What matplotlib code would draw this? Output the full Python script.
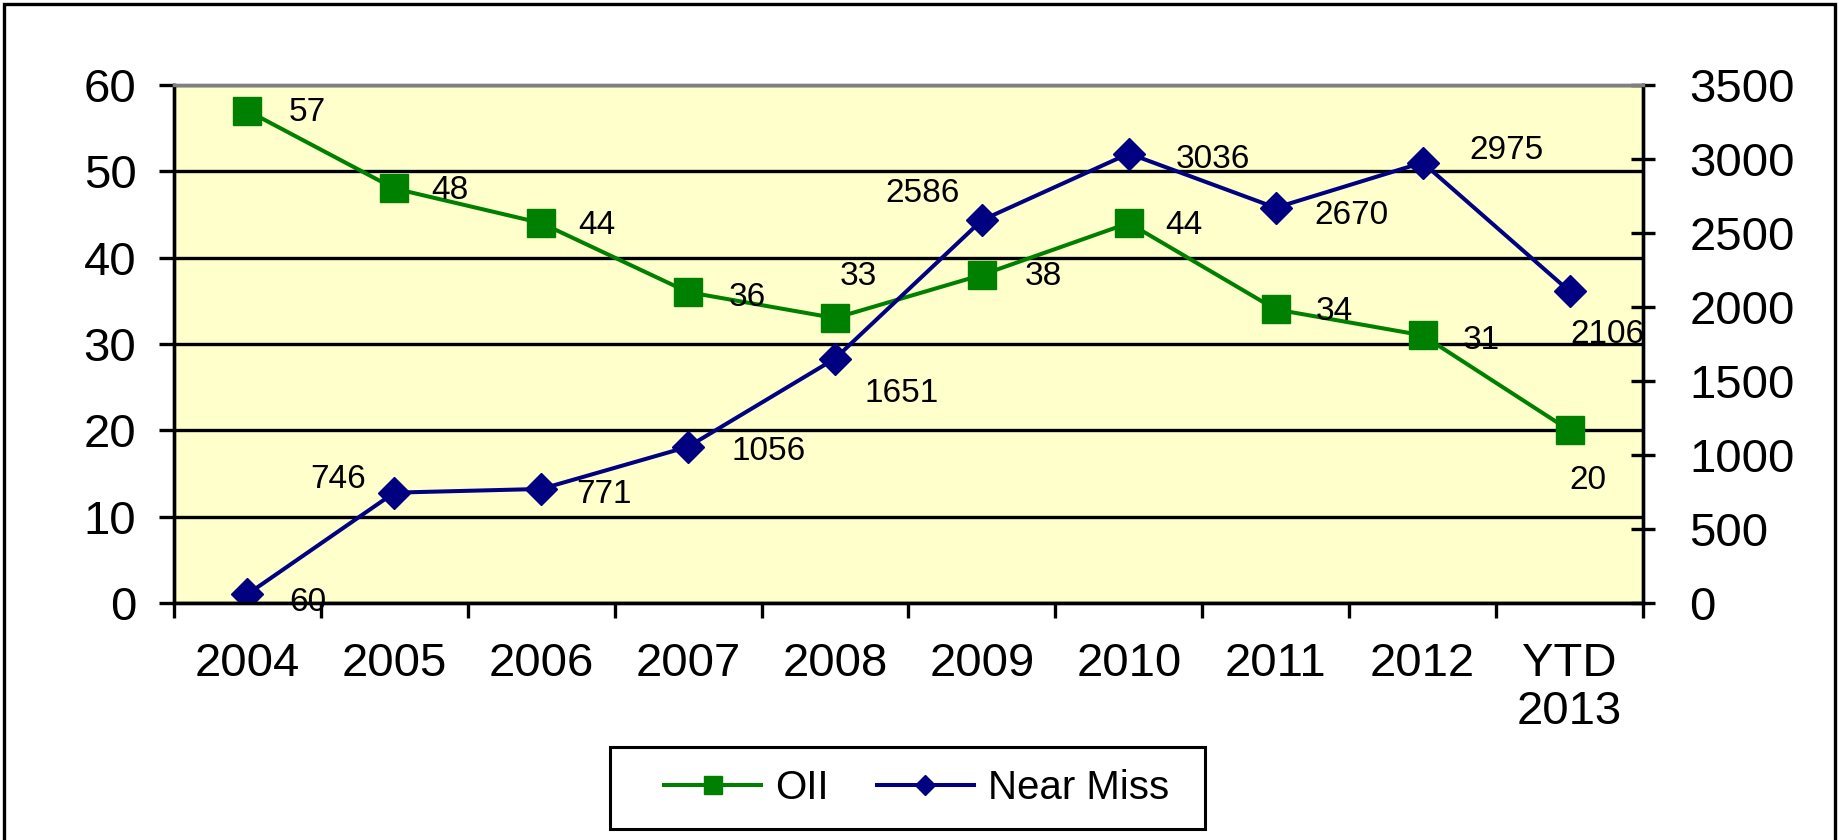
import matplotlib
matplotlib.use("Agg")
import matplotlib.pyplot as plt
from matplotlib.patches import Rectangle

plt.rcParams['font.family'] = ['Liberation Sans', 'DejaVu Sans']

# data
years = ["2004", "2005", "2006", "2007", "2008", "2009", "2010", "2011", "2012", "YTD\n2013"]
oii = [57, 48, 44, 36, 33, 38, 44, 34, 31, 20]
near_miss = [60, 746, 771, 1056, 1651, 2586, 3036, 2670, 2975, 2106]

# where each value label sits, pixels from its marker
oii_offs = [(60, -2), (56, -2), (56, -2), (59, -5), (23, 42),
            (61, -2), (55, -2), (59, -2), (59, -5), (18, -50)]
nm_offs = [(60, -8), (-56, 13), (63, -6), (81, -5), (67, -35),
           (-59, 27), (84, -6), (76, -8), (84, 12), (38, -43)]

green = "#008000"
navy = "#000080"

fig = plt.figure(figsize=(18.39, 8.4), dpi=100)
ax = fig.add_axes([0.0946, 0.282, 0.7988, 0.617])
ax.set_facecolor("#FFFFCC")
ax2 = ax.twinx()

x = list(range(len(years)))
l1, = ax.plot(x, oii, color=green, lw=2.9, marker="s", ms=20, mec=green, label="OII")
l2, = ax2.plot(x, near_miss, color=navy, lw=2.9, marker="D", ms=16, mec=navy, label="Near Miss")

for i in x:
    ax.annotate(str(oii[i]), (i, oii[i]), xytext=oii_offs[i], textcoords="offset pixels",
                ha="center", va="center", fontsize=24)
    ax2.annotate(str(near_miss[i]), (i, near_miss[i]), xytext=nm_offs[i], textcoords="offset pixels",
                 ha="center", va="center", fontsize=24)

ax.set_xlim(-0.5, len(years) - 0.5)
ax.set_ylim(0, 60)
ax2.set_ylim(0, 3500)
ax.set_yticks(range(0, 61, 10))
ax2.set_yticks(range(0, 3501, 500))

# category labels in the middle, tick marks between categories
ax.set_xticks(x)
ax.set_xticklabels(years, linespacing=1.12)
ax.set_xticks([i - 0.5 for i in range(len(years) + 1)], minor=True)
ax.tick_params(axis="x", which="major", length=0, pad=28, labelsize=34)
ax.tick_params(axis="x", which="minor", length=11, width=2.4, direction="out")
ax.tick_params(axis="y", length=11, width=2.4, direction="out", pad=16, labelsize=34)
ax2.tick_params(axis="y", length=17, width=2.4, direction="inout", pad=25, labelsize=34)

ax.yaxis.grid(True, color="black", lw=2.4)
ax.set_axisbelow(True)

for a in (ax, ax2):
    a.spines["left"].set_linewidth(2.4)
    a.spines["right"].set_linewidth(2.4)
    a.spines["bottom"].set_linewidth(2.4)
    a.spines["top"].set_color("#808080")
    a.spines["top"].set_linewidth(2.4)

# legend entries without frame, box drawn separately (wider left padding than matplotlib gives)
fig.legend([l1, l2], ["OII", "Near Miss"], loc="center", bbox_to_anchor=(0.4984, 0.062),
           ncol=2, fontsize=29, markerscale=0.66, handlelength=2.4, handletextpad=0.35,
           frameon=False, borderpad=0, columnspacing=1.2)
fig.patches.append(Rectangle((0.3317, 0.0131), 0.3235, 0.0976, transform=fig.transFigure,
                             fill=False, edgecolor="black", lw=2.2))

# outer chart frame
fig.patches.append(Rectangle((0.002, -0.01), 0.996, 1.005, transform=fig.transFigure,
                             fill=False, edgecolor="black", lw=2.4))

fig.savefig("out.png", dpi=100)
